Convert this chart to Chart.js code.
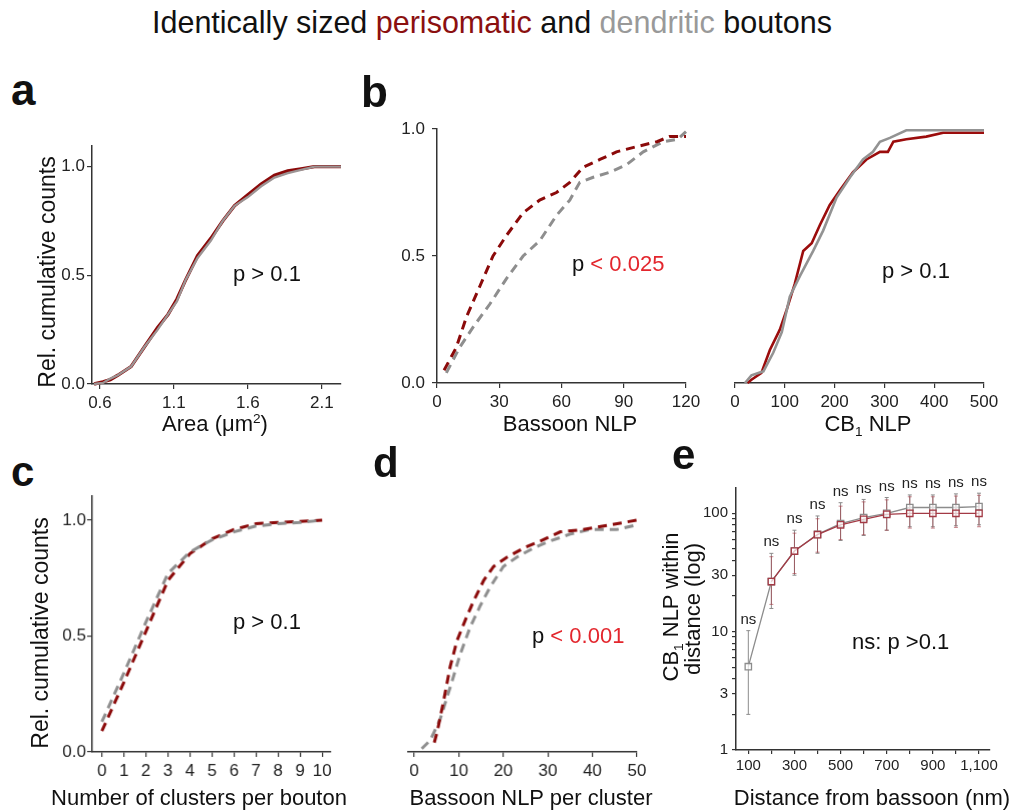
<!DOCTYPE html>
<html>
<head>
<meta charset="utf-8">
<script src="https://cdn.jsdelivr.net/npm/chart.js@4.4.1/dist/chart.umd.min.js"></script>
<style>
    body {
        margin: 0;
        width: 1019px;
        height: 811px;
        position: relative;
        overflow: hidden;
        background: #fff;
        font-family: "Liberation Sans", Arial, Helvetica, sans-serif;
        color: #111;
    }
    canvas { position: absolute; }
    .t { position: absolute; white-space: nowrap; line-height: 1; }
    .letter { font-weight: bold; }
    .red { color: #e3262d; }
    sub { font-size: 0.62em; vertical-align: -0.35em; line-height: 0; }
    sup { font-size: 0.62em; vertical-align: 0.6em; line-height: 0; }
</style>
</head>
<body>
<script>
    // ---- data ----
    // a: bouton area (um^2)
    const aAreaX = [0.56, 0.62, 0.67, 0.72, 0.81, 0.90, 0.99, 1.06, 1.12, 1.18, 1.26, 1.35, 1.43, 1.51, 1.60, 1.69, 1.78, 1.87, 1.96, 2.05, 2.23];
    const aPeriY = [0, 0.01, 0.02, 0.04, 0.08, 0.17, 0.26, 0.32, 0.39, 0.48, 0.59, 0.67, 0.75, 0.82, 0.87, 0.92, 0.96, 0.98, 0.99, 1.0, 1.0];
    const aDendY = [0, 0.005, 0.025, 0.04, 0.08, 0.17, 0.25, 0.32, 0.38, 0.48, 0.58, 0.66, 0.75, 0.82, 0.86, 0.91, 0.95, 0.97, 0.985, 1.0, 1.0];
    const aTicksX = [0.6, 1.1, 1.6, 2.1];
    const aLabelsX = ['0.6', '1.1', '1.6', '2.1'];

    // b left: bassoon NLP
    const bBsnPeriX = [3.4, 9.3, 14.2, 20.6, 27, 33.4, 41.5, 49.5, 57.6, 64, 70.5, 78.5, 86.5, 96, 106, 112, 120];
    const bBsnPeriY = [0.05, 0.14, 0.26, 0.38, 0.50, 0.58, 0.67, 0.72, 0.75, 0.79, 0.85, 0.88, 0.91, 0.93, 0.95, 0.97, 0.97];
    const bBsnDendX = [4.5, 10.9, 17.4, 25.4, 33.4, 41.5, 49.5, 57.6, 64, 68.8, 75.3, 83.3, 91.4, 99.4, 109, 116, 120];
    const bBsnDendY = [0.04, 0.14, 0.22, 0.31, 0.41, 0.50, 0.56, 0.66, 0.72, 0.79, 0.81, 0.83, 0.86, 0.91, 0.95, 0.96, 0.99];
    const bBsnTicksX = [0, 30, 60, 90, 120];

    // b right: CB1 NLP
    const bCbPeriX = [25, 33, 53, 70, 90, 104, 120, 137, 154, 170, 190, 211, 237, 264, 291, 307, 318, 344, 384, 418, 500];
    const bCbPeriY = [0, 0.013, 0.04, 0.13, 0.21, 0.29, 0.39, 0.52, 0.55, 0.62, 0.70, 0.76, 0.83, 0.88, 0.91, 0.91, 0.95, 0.96, 0.97, 0.985, 0.985];
    const bCbDendX = [20, 33, 57, 77, 94, 110, 130, 157, 177, 204, 231, 257, 277, 291, 311, 344, 500];
    const bCbDendY = [0, 0.03, 0.046, 0.12, 0.20, 0.34, 0.42, 0.52, 0.60, 0.73, 0.81, 0.88, 0.91, 0.95, 0.965, 0.995, 0.995];
    const bCbTicksX = [0, 100, 200, 300, 400, 500];

    const cumTicksY = [0, 0.5, 1.0];
    const cumLabelsY = ['0.0', '0.5', '1.0'];

    // c: clusters per bouton
    const cClusters = [0, 1, 2, 3, 4, 5, 6, 7, 8, 9, 10];
    const cPeriY = [0.09, 0.30, 0.52, 0.74, 0.856, 0.92, 0.96, 0.985, 0.99, 0.995, 1.0];
    const cDendY = [0.13, 0.34, 0.56, 0.77, 0.863, 0.915, 0.95, 0.975, 0.985, 0.99, 1.0];

    // d: bassoon NLP per cluster
    const dPeriX = [4.5, 5.2, 6.6, 8.1, 9.6, 11.5, 13.3, 15.6, 17.8, 20.8, 24.6, 28.3, 32.8, 38, 44, 50];
    const dPeriY = [0.04, 0.09, 0.22, 0.37, 0.48, 0.57, 0.65, 0.74, 0.80, 0.84, 0.88, 0.91, 0.95, 0.96, 0.98, 1.0];
    const dDendX = [1.7, 3.6, 5.8, 8.1, 10.3, 12.6, 14.8, 17, 20, 23, 26.8, 30.5, 35, 39.5, 45.5, 50];
    const dDendY = [0.014, 0.05, 0.14, 0.28, 0.42, 0.54, 0.63, 0.71, 0.80, 0.84, 0.88, 0.91, 0.94, 0.96, 0.96, 0.98];
    const dTicksX = [0, 10, 20, 30, 40, 50];

    // e: CB1 NLP within distance (mean with error range)
    const eDist = [100, 200, 300, 400, 500, 600, 700, 800, 900, 1000, 1100];
    const eDendMean = [5.06, 26.5, 48, 66.5, 82, 92, 100, 112, 112, 112, 114];
    const eDendHi = [10.2, 45.9, 72, 95, 123, 131, 136, 143, 143, 146, 148];
    const eDendLo = [2.0, 15.7, 30, 46, 59, 65, 72, 77, 77, 78.5, 80];
    const ePeriMean = [null, 26.5, 48, 66, 80, 89, 98, 100, 100, 100, 100];
    const ePeriHi = [null, 43, 68, 90, 115, 125, 130, 138, 138, 140, 142];
    const ePeriLo = [null, 17, 31, 47, 60, 66, 72, 75, 75, 76, 77];
    const eSig = ['ns', 'ns', 'ns', 'ns', 'ns', 'ns', 'ns', 'ns', 'ns', 'ns', 'ns'];
    const eLabelsX = ['100', '', '300', '', '500', '', '700', '', '900', '', '1,100'];
    const eTicksY = [1, 2, 3, 4, 5, 6, 7, 8, 9, 10, 20, 30, 40, 50, 60, 70, 80, 90, 100];
    const eLabelsY = {1: '1', 3: '3', 10: '10', 30: '30', 100: '100'};

    // ---- styling ----
    const FONT = '"Liberation Sans", Arial, Helvetica, sans-serif';
    const INK = '#333';
    const PERI = '#8b0a0a';
    const DEND = '#8e8e8e';
    const PAD = {l: 55, t: 30, r: 30, b: 36};

    function mount(area) {
        const c = document.createElement('canvas');
        const w = area.r - area.l + PAD.l + PAD.r;
        const h = area.b - area.t + PAD.t + PAD.b;
        c.width = w; c.height = h;
        c.style.left = (area.l - PAD.l) + 'px';
        c.style.top = (area.t - PAD.t) + 'px';
        c.style.width = w + 'px'; c.style.height = h + 'px';
        document.body.appendChild(c);
        return c;
    }

    function axis(min, max, ticks, labels, o) {
        o = o || {};
        return {
            type: o.type || 'linear',
            min: min, max: max,
            display: o.display !== false,
            afterBuildTicks: s => { s.ticks = ticks.map(v => ({value: v})); },
            afterFit: s => {
                if (o.w != null) s.width = o.w;
                if (o.h != null) s.height = o.h;
            },
            border: {display: true, color: INK, width: 1.5},
            grid: {display: true, drawOnChartArea: false, drawTicks: true, tickLength: o.tl || 5, color: INK, lineWidth: 1.2},
            ticks: {
                autoSkip: false, maxRotation: 0, minRotation: 0,
                padding: o.pad != null ? o.pad : 3,
                color: '#222',
                font: {family: FONT, size: o.fs || 17},
                callback: (v, i) => labels[i]
            }
        };
    }

    // first dataset in the list ends up drawn on top
    function line(xs, ys, color, width, dash) {
        return {
            data: xs.map((x, i) => ({x: x, y: ys[i]})),
            borderColor: color, borderWidth: width, borderDash: dash || [],
            pointRadius: 0, tension: 0, fill: false, clip: false
        };
    }

    function draw(area, scales, datasets, plugins, yHidden) {
        const cv = mount(area);
        return new Chart(cv, {
            type: 'line',
            data: {datasets: datasets},
            options: {
                responsive: false, animation: false, devicePixelRatio: 1,
                layout: {padding: {left: yHidden ? PAD.l : 0, top: PAD.t, right: PAD.r, bottom: 0}},
                plugins: {legend: {display: false}, tooltip: {enabled: false}},
                scales: scales
            },
            plugins: plugins || []
        });
    }

    const DASH = [9, 6];

    // a
    draw({l: 92, t: 146, r: 341, b: 384}, {
        x: axis(0.546, 2.23, aTicksX, aLabelsX, {h: PAD.b, pad: 4}),
        y: axis(0, 1.095, cumTicksY, cumLabelsY, {w: PAD.l, pad: 2})
    }, [line(aAreaX, aDendY, '#9c9494', 2.4), line(aAreaX, aPeriY, PERI, 3.4)]);

    // b left
    draw({l: 437, t: 129.3, r: 686, b: 383.3}, {
        x: axis(0, 120, bBsnTicksX, bBsnTicksX.map(String), {h: PAD.b, pad: 4}),
        y: axis(0, 1.0, cumTicksY, cumLabelsY, {w: PAD.l, pad: 7})
    }, [line(bBsnPeriX, bBsnPeriY, PERI, 3, DASH), line(bBsnDendX, bBsnDendY, DEND, 3, DASH)]);

    // b right
    draw({l: 735, t: 129.3, r: 984.3, b: 383.3}, {
        x: axis(0, 500, bCbTicksX, bCbTicksX.map(String), {h: PAD.b, pad: 4}),
        y: axis(0, 1.0, cumTicksY, cumLabelsY, {display: false})
    }, [line(bCbDendX, bCbDendY, '#939393', 2.6), line(bCbPeriX, bCbPeriY, '#9b0c0c', 2.6)], [], true);

    // c
    draw({l: 92, t: 496, r: 330.7, b: 751.7}, {
        x: axis(-0.44, 10.4, cClusters, cClusters.map(String), {h: PAD.b, pad: 4}),
        y: axis(0, 1.104, cumTicksY, cumLabelsY, {w: PAD.l, pad: 1})
    }, [line(cClusters, cDendY, DEND, 3, DASH), line(cClusters, cPeriY, PERI, 3, DASH)]);

    // d
    draw({l: 408, t: 496, r: 636.7, b: 751.7}, {
        x: axis(-1.35, 50, dTicksX, dTicksX.map(String), {h: PAD.b, pad: 4}),
        y: axis(0, 1.104, cumTicksY, cumLabelsY, {display: false})
    }, [line(dPeriX, dPeriY, PERI, 3, DASH), line(dDendX, dDendY, DEND, 3, DASH)], [], true);

    // e: error bars and "ns" marks drawn through the chart scales
    const errorBars = {
        id: 'errorBars',
        beforeDatasetsDraw(chart) {
            const ctx = chart.ctx, xs = chart.scales.x, ys = chart.scales.y;
            chart.data.datasets.slice().reverse().forEach(ds => {
                ctx.save();
                ctx.strokeStyle = ds.errColor;
                ctx.lineWidth = 1;
                eDist.forEach((d, i) => {
                    if (ds.hi[i] == null) return;
                    const px = xs.getPixelForValue(d);
                    const top = ys.getPixelForValue(ds.hi[i]);
                    const bot = ys.getPixelForValue(ds.lo[i]);
                    ctx.beginPath();
                    ctx.moveTo(px, top); ctx.lineTo(px, bot);
                    ctx.moveTo(px - 2, top); ctx.lineTo(px + 2, top);
                    ctx.moveTo(px - 2, bot); ctx.lineTo(px + 2, bot);
                    ctx.stroke();
                });
                ctx.restore();
            });
        },
        afterDraw(chart) {
            const ctx = chart.ctx, xs = chart.scales.x, ys = chart.scales.y;
            ctx.save();
            ctx.fillStyle = '#222';
            ctx.font = '15px ' + FONT;
            ctx.textAlign = 'center';
            ctx.textBaseline = 'middle';
            eDist.forEach((d, i) => {
                const hi = Math.max(eDendHi[i] || 0, ePeriHi[i] || 0);
                const y = Math.max(ys.getPixelForValue(hi) - 11, chart.chartArea.top - 10);
                ctx.fillText(eSig[i], xs.getPixelForValue(d), y);
            });
            ctx.restore();
        }
    };

    function eSeries(ys, hi, lo, color, errColor) {
        return {
            data: eDist.map((x, i) => ({x: x, y: ys[i]})),
            hi: hi, lo: lo, errColor: errColor,
            borderColor: color, borderWidth: 1.3,
            pointStyle: 'rect', pointRadius: 4.5, pointBorderWidth: 1.3,
            pointBorderColor: color, pointBackgroundColor: 'rgba(255,255,255,0.7)',
            tension: 0, fill: false, clip: false, spanGaps: false
        };
    }

    draw({l: 736, t: 488, r: 990, b: 750}, {
        x: axis(46.6, 1147.7, eDist, eLabelsX, {h: PAD.b, pad: 3, fs: 15, tl: 4}),
        y: axis(1, 163.7, eTicksY, eTicksY.map(v => eLabelsY[v] || ''), {type: 'logarithmic', w: PAD.l, pad: 4, fs: 15, tl: 4})
    }, [
        eSeries(ePeriMean, ePeriHi, ePeriLo, '#a33a45', 'rgba(163,58,69,0.6)'),
        eSeries(eDendMean, eDendHi, eDendLo, '#8c8c8c', '#8c8c8c')
    ], [errorBars]);

    // ---- text ----
    function text(html, x, baseline, size, o) {
        o = o || {};
        const el = document.createElement('div');
        el.className = 't' + (o.cls ? ' ' + o.cls : '');
        el.innerHTML = html;
        el.style.fontSize = size + 'px';
        el.style.left = x + 'px';
        el.style.top = (baseline - 0.8465 * size) + 'px';
        if (o.center) el.style.transform = 'translateX(-50%)';
        document.body.appendChild(el);
    }

    function vtext(html, cx, cy, size) {
        const el = document.createElement('div');
        el.className = 't';
        el.innerHTML = html;
        el.style.fontSize = size + 'px';
        el.style.left = cx + 'px';
        el.style.top = cy + 'px';
        el.style.transform = 'translate(-50%, -50%) rotate(-90deg)';
        document.body.appendChild(el);
    }

    text('Identically sized <span style="color:#8b1010">perisomatic</span> and <span style="color:#999">dendritic</span> boutons', 152, 33.3, 30.5);

    text('a', 11, 105, 44, {cls: 'letter'});
    text('b', 361, 107, 44, {cls: 'letter'});
    text('c', 11, 487, 42, {cls: 'letter'});
    text('d', 373, 478, 42, {cls: 'letter'});
    text('e', 672, 470, 42, {cls: 'letter'});

    text('p &gt; 0.1', 233, 281.7, 22);
    text('p <span class="red">&lt; 0.025</span>', 572, 271.7, 22);
    text('p &gt; 0.1', 882, 278.3, 22);
    text('p &gt; 0.1', 233, 630, 22);
    text('p <span class="red">&lt; 0.001</span>', 532, 644, 22);
    text('ns: p &gt;0.1', 852, 650, 22);

    text('Area (&mu;m<sup>2</sup>)', 215, 432, 22, {center: true});
    text('Bassoon NLP', 570, 432, 22, {center: true});
    text('CB<sub>1</sub> NLP', 868, 432, 22, {center: true});
    text('Number of clusters per bouton', 199, 806, 22, {center: true});
    text('Bassoon NLP per cluster', 531, 806, 22, {center: true});
    text('Distance from bassoon (nm)', 872, 806, 22, {center: true});

    vtext('Rel. cumulative counts', 47.4, 272, 23);
    vtext('Rel. cumulative counts', 40.4, 633, 23);
    vtext('CB<sub>1</sub> NLP within', 671.4, 607, 22);
    vtext('distance (log)', 693, 609, 22);
</script>
</body>
</html>
